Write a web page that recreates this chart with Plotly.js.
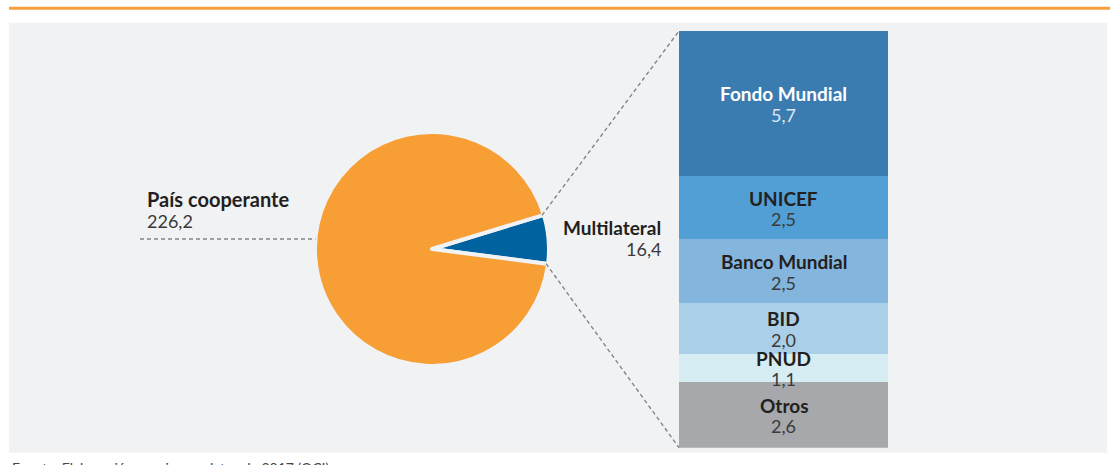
<!DOCTYPE html>
<html>
<head>
<meta charset="utf-8">
<script src="https://cdn.plot.ly/plotly-3.0.1.min.js"></script>
<style>
  html, body { margin: 0; padding: 0; background: #ffffff; }
  #chart { width: 1110px; height: 465px; }
</style>
</head>
<body>
<div id="chart"></div>
<script>
// ---- Data ----
const pieLabels = ['Multilateral', 'País cooperante'];
const pieValues = [16.4, 226.2];

const categories = ['Fondo Mundial', 'UNICEF', 'Banco Mundial', 'BID', 'PNUD', 'Otros'];
const values = [5.7, 2.5, 2.5, 2.0, 1.1, 2.6];

// ---- Styles ----
const pieColors = ['#00639F', '#F79E35'];
const barColors = ['#3A7BB0', '#519FD5', '#84B5DD', '#ABCFE9', '#D5EDF3', '#A7A8AB'];
const labelColors = ['#FFFFFF', '#231F20', '#231F20', '#231F20', '#231F20', '#231F20'];
const valueColors = ['#DCE6F0', '#3A3A3A', '#3A3A3A', '#3A3A3A', '#3A3A3A', '#3A3A3A'];
const panelColor = '#F1F2F4';
const FONT = 'Lato, "Open Sans", sans-serif';

const W = 1110, H = 465;
const fmt = v => v.toFixed(1).replace('.', ',');

// pie geometry (pixels)
const pieCx = 432, pieCy = 249, pieR = 117;
const rotation = 73;
const pieDomain = {
  x: [(pieCx - pieR) / W, (pieCx + pieR) / W],
  y: [1 - (pieCy + pieR) / H, 1 - (pieCy - pieR) / H]
};
// bar geometry (pixels)
const barX0 = 679, barX1 = 888, barY0 = 31, barY1 = 447.7;
const barDomainX = [barX0 / W, barX1 / W];
const barDomainY = [1 - barY1 / H, 1 - barY0 / H];

const total = values.reduce((a, b) => a + b, 0);
const pieTotal = pieValues.reduce((a, b) => a + b, 0);

const traces = [];
traces.push({
  type: 'pie',
  labels: pieLabels,
  values: pieValues,
  sort: false,
  direction: 'clockwise',
  rotation: rotation,
  textinfo: 'none',
  hoverinfo: 'skip',
  showlegend: false,
  marker: { colors: pieColors, line: { color: panelColor, width: 4 } },
  domain: pieDomain
});

categories.forEach((c, i) => {
  traces.push({
    type: 'bar',
    x: [0],
    y: [values[i]],
    name: c,
    width: 1,
    marker: { color: barColors[i], line: { width: 0 } },
    hoverinfo: 'skip',
    showlegend: false,
    xaxis: 'x',
    yaxis: 'y'
  });
});

// annotations
const annotations = [];
let cum = 0;
categories.forEach((c, i) => {
  const mid = cum + values[i] / 2;
  cum += values[i];
  annotations.push({
    x: 0, y: mid, xref: 'x', yref: 'y', showarrow: false,
    text: '<b>' + c + '</b>', yshift: 9.5, xanchor: 'center', yanchor: 'middle',
    font: { family: FONT, size: 19, color: labelColors[i] }
  });
  annotations.push({
    x: 0, y: mid, xref: 'x', yref: 'y', showarrow: false,
    text: fmt(values[i]), yshift: -11.5, xanchor: 'center', yanchor: 'middle',
    font: { family: FONT, size: 18, color: valueColors[i] }
  });
});

// pie labels
annotations.push({
  x: 145 / W, y: 1 - 199 / H, xref: 'paper', yref: 'paper', showarrow: false,
  xanchor: 'left', yanchor: 'middle', text: '<b>' + pieLabels[1] + '</b>',
  font: { family: FONT, size: 20, color: '#231F20' }
});
annotations.push({
  x: 145 / W, y: 1 - 221 / H, xref: 'paper', yref: 'paper', showarrow: false,
  xanchor: 'left', yanchor: 'middle', text: fmt(pieValues[1]),
  font: { family: FONT, size: 18, color: '#3A3A3A' }
});
annotations.push({
  x: 663 / W, y: 1 - 227 / H, xref: 'paper', yref: 'paper', showarrow: false,
  xanchor: 'right', yanchor: 'middle', text: '<b>' + pieLabels[0] + '</b>',
  font: { family: FONT, size: 19, color: '#231F20' }
});
annotations.push({
  x: 663 / W, y: 1 - 249 / H, xref: 'paper', yref: 'paper', showarrow: false,
  xanchor: 'right', yanchor: 'middle', text: fmt(pieValues[0]),
  font: { family: FONT, size: 18, color: '#3A3A3A' }
});
// source note (cropped at bottom in the reference)
annotations.push({
  x: 10 / W, y: 1 - 457 / H, xref: 'paper', yref: 'paper', showarrow: false,
  xanchor: 'left', yanchor: 'top', text: 'Fuente: Elaboración propia con datos de 2017 (OCI).',
  font: { family: FONT, size: 14, color: '#444444' }
});

// connector geometry from pie slice angles
const a0 = rotation * Math.PI / 180;
const a1 = (rotation + 360 * pieValues[0] / pieTotal) * Math.PI / 180;
const rr = pieR - 2;
const p0 = [pieCx + rr * Math.sin(a0), pieCy - rr * Math.cos(a0)];
const p1 = [pieCx + rr * Math.sin(a1), pieCy - rr * Math.cos(a1)];
const px = v => v / W, py = v => 1 - v / H;
const dashLine = { color: '#858585', width: 1.4, dash: '4px,3px' };
const leftY = 239;
const leftX = pieCx - Math.sqrt(pieR * pieR - (pieCy - leftY) * (pieCy - leftY));

const shapes = [
  { type: 'rect', xref: 'paper', yref: 'paper', layer: 'below',
    x0: px(9), x1: px(1107), y0: py(452.7), y1: py(22.7),
    fillcolor: panelColor, line: { width: 0 } },
  { type: 'line', xref: 'paper', yref: 'paper',
    x0: px(9), x1: px(1110), y0: py(8.3), y1: py(8.3),
    line: { color: '#F5A03A', width: 3 } },
  { type: 'line', xref: 'paper', yref: 'paper',
    x0: px(p0[0]), y0: py(p0[1]), x1: px(barX0), y1: py(barY0), line: dashLine },
  { type: 'line', xref: 'paper', yref: 'paper',
    x0: px(p1[0]), y0: py(p1[1]), x1: px(barX0), y1: py(barY1), line: dashLine },
  { type: 'line', xref: 'paper', yref: 'paper',
    x0: px(140), y0: py(leftY), x1: px(leftX), y1: py(leftY), line: dashLine }
];

const layout = {
  width: W, height: H,
  margin: { l: 0, r: 0, t: 0, b: 0, pad: 0 },
  paper_bgcolor: '#FFFFFF',
  plot_bgcolor: 'rgba(0,0,0,0)',
  barmode: 'stack',
  bargap: 0,
  showlegend: false,
  xaxis: { domain: barDomainX, range: [-0.5, 0.5], visible: false, fixedrange: true },
  yaxis: { domain: barDomainY, range: [total, 0], visible: false, fixedrange: true },
  annotations: annotations,
  shapes: shapes,
  font: { family: FONT }
};

Plotly.newPlot('chart', traces, layout, { staticPlot: true, displayModeBar: false });
</script>
</body>
</html>
